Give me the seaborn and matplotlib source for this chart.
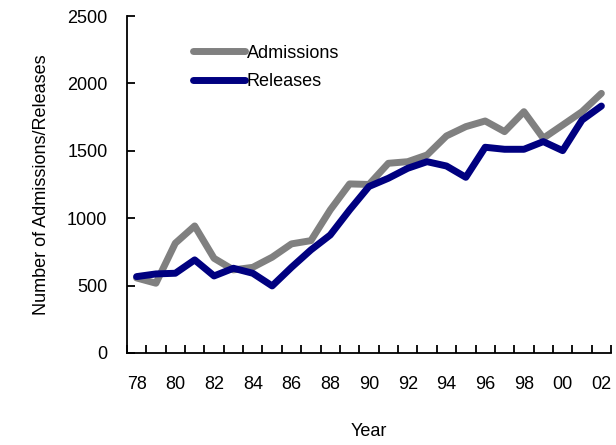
import numpy as np
import pandas as pd
import seaborn as sns
import matplotlib.pyplot as plt
from matplotlib.ticker import FixedLocator

# Data (1978 - 2002)
years = ['78', '79', '80', '81', '82', '83', '84', '85', '86', '87', '88', '89', '90',
         '91', '92', '93', '94', '95', '96', '97', '98', '99', '00', '01', '02']
admissions = [556, 517, 814, 942, 702, 616, 635, 710, 809, 833, 1061, 1254, 1250,
              1407, 1419, 1469, 1610, 1679, 1721, 1642, 1790, 1593, 1691, 1790, 1926]
releases = [566, 586, 591, 690, 571, 628, 591, 497, 635, 764, 875, 1061, 1235,
            1296, 1370, 1419, 1387, 1303, 1526, 1511, 1511, 1568, 1501, 1728, 1832]

df = pd.DataFrame({'idx': list(range(len(years))) * 2,
                   'value': admissions + releases,
                   'series': ['Admissions'] * len(years) + ['Releases'] * len(years)})

sns.set_style("white")
plt.rcParams['font.family'] = ['Liberation Sans', 'DejaVu Sans']
plt.rcParams['text.color'] = 'black'
plt.rcParams['axes.labelcolor'] = 'black'
plt.rcParams['xtick.color'] = 'black'
plt.rcParams['ytick.color'] = 'black'

fig = plt.figure(figsize=(6.16, 4.45), dpi=100)
ax = fig.add_axes([0.206, 0.207, 0.786, 0.757])

sns.lineplot(data=df, x='idx', y='value', hue='series',
             palette={'Admissions': '#808080', 'Releases': '#000080'},
             linewidth=5, solid_capstyle='round', ax=ax)

ax.set_xlim(-0.5, len(years) - 0.5)
ax.set_ylim(0, 2500)
ax.set_yticks([0, 500, 1000, 1500, 2000, 2500])

# labels every other year, tick marks between categories
ax.xaxis.set_major_locator(FixedLocator(list(range(0, len(years), 2))))
ax.set_xticklabels(years[::2])
ax.xaxis.set_minor_locator(FixedLocator([i - 0.5 for i in range(len(years) + 1)]))
ax.tick_params(axis='x', which='major', length=0, pad=17, labelsize=13)
ax.tick_params(axis='x', which='minor', direction='in', length=6, width=1.3, color='black', bottom=True)
ax.tick_params(axis='y', direction='in', length=6, width=1.3, color='black', pad=14, labelsize=13, left=True)

for s in ['top', 'right']:
    ax.spines[s].set_visible(False)
for s in ['left', 'bottom']:
    ax.spines[s].set_color('black')
    ax.spines[s].set_linewidth(1.3)

ax.set_xlabel('Year', fontsize=13, labelpad=21)
ax.set_ylabel('Number of Admissions/Releases', fontsize=13, labelpad=12)

leg = ax.legend(loc='upper left', bbox_to_anchor=(0.136, 0.915), frameon=False,
                fontsize=13, handlelength=2.9, handletextpad=0.1, labelspacing=0.62,
                borderpad=0, borderaxespad=0)
for line in leg.get_lines():
    line.set_linewidth(5)
    line.set_solid_capstyle('round')

fig.savefig('out.png', dpi=100)
